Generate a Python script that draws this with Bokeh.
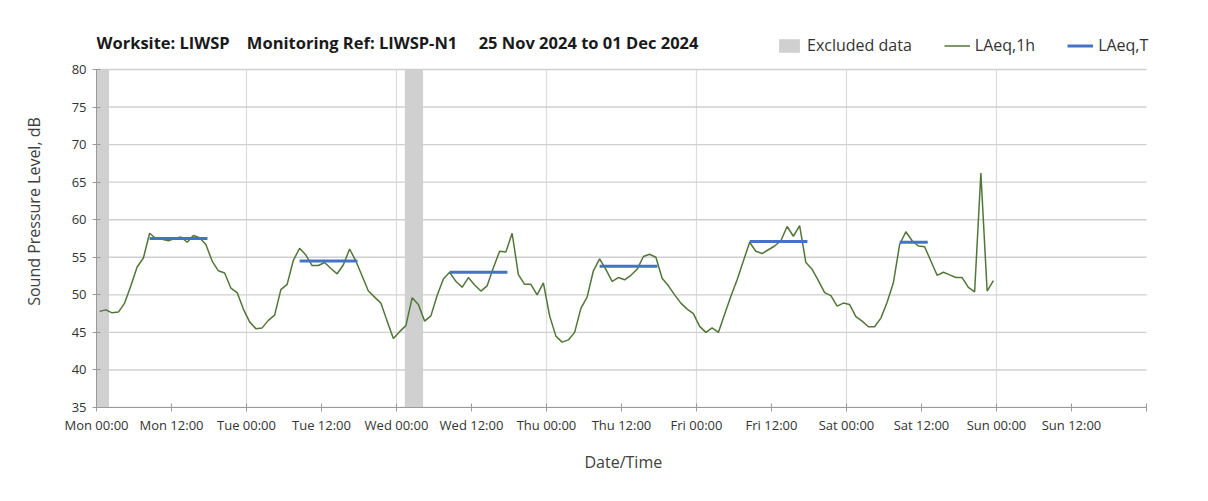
from datetime import datetime, timedelta
import pandas as pd
from bokeh.plotting import figure
from bokeh.models import (Range1d, FixedTicker, DatetimeTickFormatter, Legend, LegendItem,
                          Label, Title)
from bokeh.embed import file_html
from bokeh.resources import INLINE

# ---------------- data ----------------
start_time = "2024-11-25 00:30"
laeq_1h = [
    47.8, 48.0, 47.6, 47.7, 48.9, 51.2, 53.7, 54.9, 58.2, 57.5, 57.4, 57.2,
    57.5, 57.7, 57.0, 57.9, 57.6, 56.7, 54.5, 53.2, 52.9, 50.9, 50.3, 48.1,
    46.4, 45.5, 45.6, 46.6, 47.3, 50.7, 51.4, 54.6, 56.2, 55.3, 53.9, 53.9,
    54.3, 53.5, 52.8, 54.0, 56.1, 54.5, 52.5, 50.5, 49.7, 48.9, 46.5, 44.2,
    45.1, 45.9, 49.6, 48.7, 46.5, 47.2, 49.9, 52.1, 53.0, 51.8, 51.0, 52.3,
    51.3, 50.5, 51.2, 53.6, 55.8, 55.7, 58.2, 52.7, 51.4, 51.4, 50.0, 51.6,
    47.2, 44.5, 43.7, 44.0, 45.0, 48.2, 49.7, 53.2, 54.8, 53.4, 51.8, 52.3,
    52.0, 52.6, 53.4, 55.1, 55.4, 55.0, 52.2, 51.2, 50.0, 48.9, 48.1, 47.5,
    45.8, 45.0, 45.6, 45.0, 47.4, 49.8, 52.0, 54.5, 57.0, 55.8, 55.5, 56.0,
    56.5, 57.2, 59.1, 57.8, 59.2, 54.3, 53.4, 51.9, 50.3, 49.9, 48.5, 48.9,
    48.7, 47.1, 46.5, 45.75, 45.75, 46.9, 49.0, 51.6, 56.7, 58.4, 57.2, 56.5,
    56.4, 54.5, 52.6, 53.0, 52.65, 52.3, 52.3, 51.0, 50.4, 66.2, 50.5, 51.9,
]
laeq_t_start = ["2024-11-25 08:30", "2024-11-26 08:30", "2024-11-27 08:30",
                "2024-11-28 08:30", "2024-11-29 08:30", "2024-11-30 08:30"]
laeq_t_end = ["2024-11-25 17:45", "2024-11-26 17:45", "2024-11-27 17:45",
              "2024-11-28 17:45", "2024-11-29 17:45", "2024-11-30 13:00"]
laeq_t = [57.5, 54.5, 53.0, 53.8, 57.1, 57.0]
excluded_start = ["2024-11-25 00:00", "2024-11-27 01:20"]
excluded_end = ["2024-11-25 02:00", "2024-11-27 04:15"]
y_ticks = [35, 40, 45, 50, 55, 60, 65, 70, 75, 80]
title_text = ("Worksite: LIWSP\u00a0\u00a0\u00a0 Monitoring Ref: LIWSP-N1"
              "\u00a0\u00a0\u00a0\u00a0 25 Nov 2024 to 01 Dec 2024")
x_label = "Date/Time"
y_label = "Sound Pressure Level, dB"

times = pd.date_range(start_time, periods=len(laeq_1h), freq="h")

x0 = datetime(2024, 11, 25)
x1 = datetime(2024, 12, 2)
y_lo, y_hi = y_ticks[0], y_ticks[-1]
# the frame is extended above the 80 dB line and right of the axis end so that
# the heading row and the legend can sit there (axis: 96..1146 px, 69..407 px)
left_px, axis_end_px, frame_right_px = 96, 1146, 1182
frame_top_px, y_hi_px, y_lo_px = 15, 69, 407
y_top = y_lo + (y_hi - y_lo) * (y_lo_px - frame_top_px) / (y_lo_px - y_hi_px)
px_per_db = (y_lo_px - y_hi_px) / (y_hi - y_lo)
px_per_day = (axis_end_px - left_px) / 7.0
x_end = x1 + timedelta(days=(frame_right_px - axis_end_px) / px_per_day)

p = figure(width=1192, height=485, x_axis_type="datetime",
           x_range=Range1d(x0, x_end), y_range=Range1d(y_lo, y_top),
           output_backend="svg", toolbar_location=None, title_location=None,
           min_border_left=left_px, min_border_right=1192 - frame_right_px,
           min_border_top=frame_top_px, min_border_bottom=485 - y_lo_px)
p.outline_line_color = None
p.background_fill_color = "white"
p.border_fill_color = "white"


def ms(d):
    return (d - datetime(1970, 1, 1)).total_seconds() * 1000.0


major = [ms(x0 + timedelta(hours=12 * i)) for i in range(14)]
day_lines = [x0 + timedelta(days=i) for i in range(1, 7)]

ex = p.quad(left=pd.to_datetime(excluded_start), right=pd.to_datetime(excluded_end),
            bottom=y_lo, top=y_hi, fill_color="#D0D0D0", line_color=None, level="image")
p.segment(x0=day_lines, y0=y_lo, x1=day_lines, y1=y_hi, line_color="#DCDCDC",
          line_width=1.2, level="underlay")
p.segment(x0=x0, y0=y_ticks, x1=x1, y1=y_ticks, line_color="#CFCFCF",
          line_width=1.4, level="underlay")
ln = p.line(times, laeq_1h, line_color="#527638", line_width=1.5)
sg = p.segment(x0=pd.to_datetime(laeq_t_start), y0=laeq_t, x1=pd.to_datetime(laeq_t_end), y1=laeq_t,
               line_color="#4472C4", line_width=3)

p.xaxis.ticker = FixedTicker(ticks=major, minor_ticks=[ms(x1)])
fmt = "%a %H:%M"
p.xaxis.formatter = DatetimeTickFormatter(hours=fmt, hourmin=fmt, days=fmt, months=fmt,
                                          minutes=fmt, minsec=fmt, seconds=fmt, years=fmt)
p.xaxis.bounds = (ms(x0), ms(x1))
p.yaxis.ticker = FixedTicker(ticks=y_ticks)
p.yaxis.bounds = (y_lo, y_hi)
p.xgrid.visible = False
p.ygrid.visible = False

for ax in (p.xaxis, p.yaxis):
    ax.axis_line_color = "#9A9A9A"
    ax.major_tick_line_color = "#9A9A9A"
    ax.minor_tick_line_color = "#9A9A9A"
    ax.major_tick_in = 4
    ax.major_tick_out = 4
    ax.major_label_text_font = "Open Sans"
    ax.major_label_text_font_size = "13px"
    ax.major_label_text_color = "#333333"
    ax.axis_label_text_font = "Open Sans"
    ax.axis_label_text_font_size = "16px"
    ax.axis_label_text_font_style = "normal"
    ax.axis_label_text_color = "#404040"
p.xaxis.minor_tick_in = 4
p.xaxis.minor_tick_out = 4
p.yaxis.minor_tick_line_color = None
p.yaxis.axis_label = y_label
p.xaxis.major_label_standoff = 4
p.yaxis.major_label_standoff = 6
p.yaxis.axis_label_standoff = 24

# x-axis title centred under the axis itself (not under the extended frame)
x_title_width = 74
p.add_layout(Title(text=x_label, text_font="Open Sans", text_font_size="16px",
                   text_font_style="normal", text_color="#404040", align="left",
                   offset=(axis_end_px - left_px) / 2 - x_title_width / 2, standoff=24),
             "below")

# heading (drawn inside the extended frame, above the 80 dB line)
heading_y = y_lo + (y_lo_px - 42) / px_per_db
p.add_layout(Label(x=ms(x0), y=heading_y, text=title_text, text_font="Open Sans",
                   text_font_size="16.5px", text_font_style="bold", text_color="#1A1A1A",
                   text_baseline="middle", text_align="left"))

legend = Legend(items=[LegendItem(label="Excluded data", renderers=[ex]),
                       LegendItem(label="LAeq,1h", renderers=[ln]),
                       LegendItem(label="LAeq,T", renderers=[sg])],
                orientation="horizontal", location=(680, y_lo_px - 56),
                background_fill_alpha=0, border_line_color=None,
                label_text_font="Open Sans", label_text_font_size="16px",
                label_text_color="#333333", glyph_width=26, glyph_height=17,
                label_standoff=5, spacing=32, padding=0, margin=0)
p.add_layout(legend, "center")

open("out.html", "w").write(file_html(p, INLINE))
